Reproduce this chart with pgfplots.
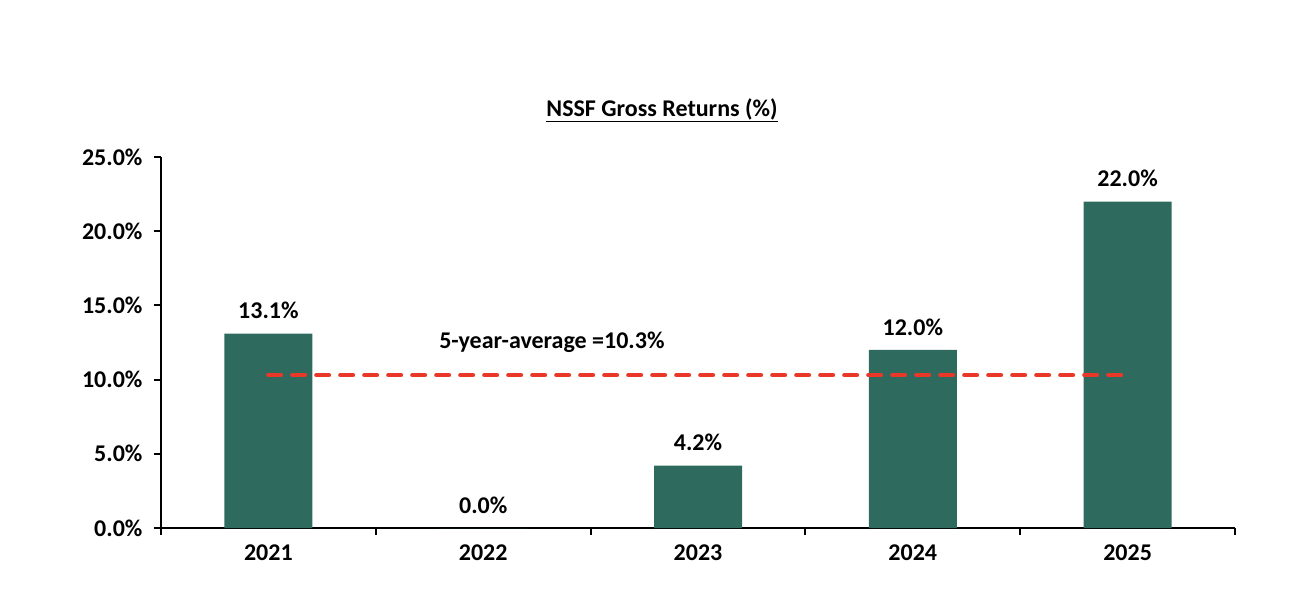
\documentclass[border=0pt]{standalone}
\usepackage{fontspec}
\setmainfont{Carlito}
\usepackage{pgfplots}
\pgfplotsset{compat=1.18}

\definecolor{bargreen}{RGB}{46,107,94}
\definecolor{avgred}{RGB}{234,56,40}

\newcommand{\lbl}{\fontsize{24}{28}\selectfont\bfseries}

\begin{document}
\begin{tikzpicture}[x=1pt,y=1pt]
  % page frame, same proportions as the reference
  \path (-161,-86) rectangle (1147,528);
  \begin{axis}[
      at={(0,0)}, anchor=south west,
      scale only axis,
      width=1074pt, height=371pt,
      xmin=-0.5, xmax=4.5,
      ymin=0, ymax=25,
      axis x line*=bottom,
      axis y line*=left,
      x axis line style={line width=2pt,-},
      y axis line style={line width=2pt,-},
      major tick style={line width=2pt,black},
      tick align=outside,
      major tick length=7pt,
      xtick={-0.5,0.5,1.5,2.5,3.5,4.5},
      x tick label as interval,
      xticklabels={2021,2022,2023,2024,2025},
      ytick={0,5,10,15,20,25},
      yticklabels={0.0\%,5.0\%,10.0\%,15.0\%,20.0\%,25.0\%},
      ticklabel style={font=\lbl},
      xticklabel style={yshift=-6pt},
      yticklabel style={xshift=-8pt},
      nodes near coords={\pgfmathprintnumber[fixed,fixed zerofill,precision=1,assume math mode=true]{\pgfplotspointmeta}\%},
      every node near coord/.append style={font=\lbl,yshift=11pt},
      clip=false,
    ]
    \addplot[ybar, bar width=88pt, fill=bargreen, draw=none]
      coordinates {(0,13.1) (1,0.0) (2,4.2) (3,12.0) (4,22.0)};
    \addplot[avgred, line width=4.5pt, line cap=round,
             dash pattern=on 12.5pt off 11.5pt, nodes near coords={}]
      coordinates {(0,10.3) (3.98,10.3)};
    \node[font=\lbl] at (axis cs:1.32,12.53)
      {5-year-average =10.3\%};
  \end{axis}
  \node[font=\lbl] at (501,418)
    {\underline{NSSF Gross Returns (\%)}};
\end{tikzpicture}
\end{document}
